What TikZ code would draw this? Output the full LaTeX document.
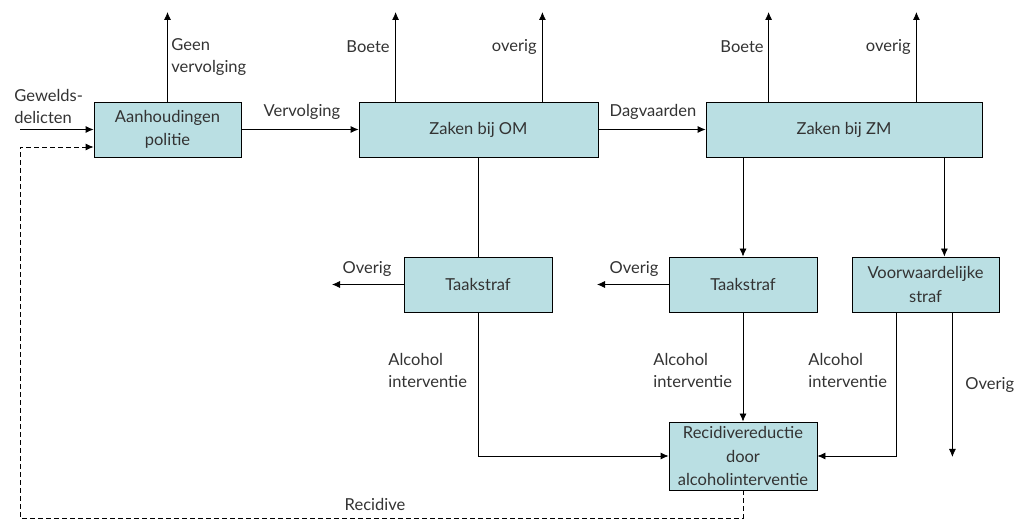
\documentclass[tikz,border=0pt]{standalone}
\usepackage{fontspec}
\setmainfont{Lato}
\usetikzlibrary{positioning,arrows.meta,calc}
\definecolor{blokkleur}{RGB}{186,223,227}

\begin{document}
\begin{tikzpicture}[x=1pt,y=-1pt,line width=0.8pt,
  blok/.style={draw,fill=blokkleur,inner sep=0pt,align=center,text=black!80,font=\fontsize{16.5}{23.5}\selectfont},
  lbl/.style={inner sep=0pt,align=left,text=black!80,font=\fontsize{16.5}{22}\selectfont},
  pijl/.style={-{Latex[length=8pt,width=7pt]}}]
\useasboundingbox (0,0) rectangle (1029,521);

% blokken
\node[blok,minimum width=147pt,minimum height=55pt] (politie) at (167.5,129.5) {Aanhoudingen\\politie};
\node[blok,minimum width=239pt,minimum height=55pt] (om) at (478.5,129.5) {Zaken bij OM};
\node[blok,minimum width=276pt,minimum height=55pt] (zm) at (844,129.5) {Zaken bij ZM};
\node[blok,minimum width=148pt,minimum height=55pt] (taak1) at (478,284.5) {Taakstraf};
\node[blok,minimum width=148pt,minimum height=55pt] (taak2) at (743,284.5) {Taakstraf};
\node[blok,minimum width=147pt,minimum height=55pt] (voorw) at (925.5,284.5) {Voorwaardelijke\\straf};
\node[blok,minimum width=148pt,minimum height=68pt] (recid) at (743,456) {Recidivereductie\\door\\alcoholinterventie};

% losse eindpunten
\coordinate (in) at (20,129.5);
\coordinate (terug) at (20,518);
\coordinate (geen) at (167.5,12);
\coordinate (omboete) at ($(om.north west)+(37,0)$);
\coordinate (omoverig) at ($(om.north east)+(-56,0)$);
\coordinate (zmboete) at ($(zm.north west)+(63,0)$);
\coordinate (zmoverig) at ($(zm.north east)+(-66,0)$);
\coordinate (zmvoorw) at ($(voorw.north east)+(-55,0)$);
\coordinate (ov1) at (332,284.5);
\coordinate (ov2) at (597,284.5);
\coordinate (voorwalc) at ($(voorw.south west)+(45,0)$);
\coordinate (voorwov) at ($(voorw.south east)+(-47,0)$);

% verbindingen
\draw[pijl] (in) -- (politie.west);
\draw[pijl,dash pattern=on 5pt off 3pt] (recid.south) |- (terug) |- ($(politie.west)+(0,17.5)$);
\draw[pijl] (politie.north) -- (geen);
\draw[pijl] (politie.east) -- (om.west);
\draw[pijl] (omboete) -- (omboete |- 0,12);
\draw[pijl] (omoverig) -- (omoverig |- 0,12);
\draw[pijl] (om.east) -- (zm.west);
\draw[pijl] (zmboete) -- (zmboete |- 0,12);
\draw[pijl] (zmoverig) -- (zmoverig |- 0,12);
\draw (om.south -| taak1.north) -- (taak1.north);
\draw[pijl] (zm.south -| taak2.north) -- (taak2.north);
\draw[pijl] (zm.south -| zmvoorw) -- (zmvoorw);
\draw[pijl] (taak1.west) -- (ov1);
\draw[pijl] (taak2.west) -- (ov2);
\draw[pijl] (taak1.south) |- (recid.west);
\draw[pijl] (taak2.south) -- (recid.north);
\draw[pijl] (voorwalc) |- (recid.east);
\draw[pijl] (voorwov) -- (voorwov |- 0,457);

% teksten
\node[lbl,anchor=west] (gewelds) at (14,106) {Gewelds-\\delicten};
\node[lbl,anchor=west] (geenverv) at (171,57) {Geen\\vervolging};
\node[lbl] (vervolging) at (302,112) {Vervolging};
\node[lbl,anchor=east] (boete1) at (390,47) {Boete};
\node[lbl,anchor=east] (overig1) at (537,47) {overig};
\node[lbl] (dagvaarden) at (653,112) {Dagvaarden};
\node[lbl,anchor=east] (boete2) at (764,47) {Boete};
\node[lbl,anchor=east] (overig2) at (911,47) {overig};
\node[lbl] (ovlbl1) at (367,269) {Overig};
\node[lbl] (ovlbl2) at (634,269) {Overig};
\node[lbl,anchor=west] (alc1) at (388,370) {Alcohol\\interventie};
\node[lbl,anchor=west] (alc2) at (653,370) {Alcohol\\interventie};
\node[lbl,anchor=west] (alc3) at (808,370) {Alcohol\\interventie};
\node[lbl,anchor=west] (ovlbl3) at (965,385) {Overig};
\node[lbl] (recidive) at (375,504) {Recidive};
\end{tikzpicture}
\end{document}
